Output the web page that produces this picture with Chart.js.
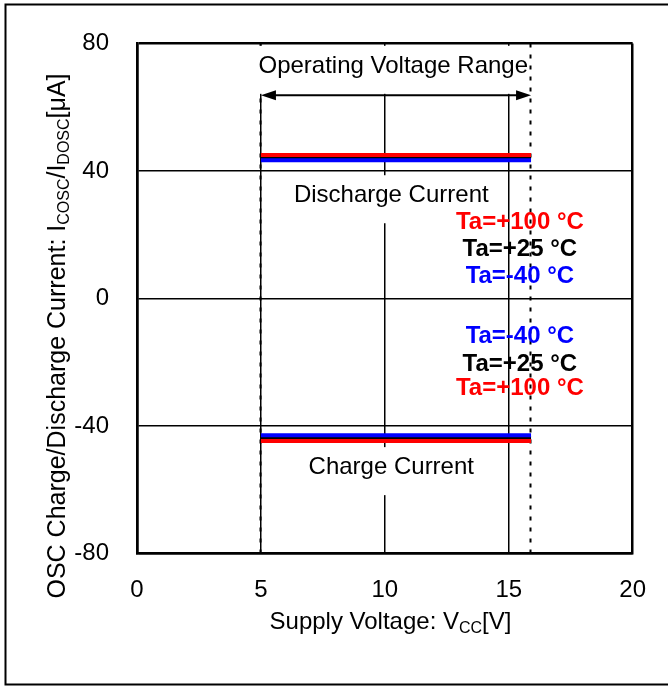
<!DOCTYPE html>
<html><head><meta charset="utf-8">
<script src="https://cdn.jsdelivr.net/npm/chart.js@4"></script>
<style>html,body{margin:0;padding:0;background:#fff;} canvas{display:block;}</style>
</head><body>
<canvas id="c" width="668" height="686"></canvas>
<script>
// ---- data ----
const xTicks = [0, 5, 10, 15, 20];
const yTicks = [-80, -40, 0, 40, 80];
const supplyVoltage = [5.0, 15.9];
const dischargeTa100 = [45.0, 45.0];
const dischargeTa25 = [44.2, 44.2];
const dischargeTaM40 = [43.4, 43.4];
const chargeTaM40 = [-42.9, -42.9];
const chargeTa25 = [-43.8, -43.8];
const chargeTa100 = [-44.7, -44.7];
const operatingRange = [5.0, 15.9];
const tempLabelsUpper = ['Ta=+100 °C', 'Ta=+25 °C', 'Ta=-40 °C'];
const tempLabelsLower = ['Ta=-40 °C', 'Ta=+25 °C', 'Ta=+100 °C'];
const tempColorsUpper = ['#ff0000', '#000000', '#0000ff'];
const tempColorsLower = ['#0000ff', '#000000', '#ff0000'];

const FONT = '"Liberation Sans", Arial, Helvetica, sans-serif';
Chart.defaults.color = '#000';
Chart.defaults.font.family = FONT;

function pts(xs, ys) { return xs.map((x, i) => ({ x: x, y: ys[i] })); }
function ds(data, color, order) {
  return { data: pts(supplyVoltage, data), borderColor: color, backgroundColor: color,
    borderWidth: 4, pointRadius: 0, fill: false, order: order, borderCapStyle: 'butt' };
}

const annot = {
  id: 'annot',
  beforeDatasetsDraw(chart) {
    const ctx = chart.ctx, xs = chart.scales.x, ys = chart.scales.y, a = chart.chartArea;
    ctx.save();
    ctx.strokeStyle = '#000'; ctx.lineWidth = 2; ctx.setLineDash([4, 7]);
    operatingRange.forEach(v => {
      const X = Math.round(xs.getPixelForValue(v)) - 0.5;
      ctx.beginPath(); ctx.moveTo(X, a.top); ctx.lineTo(X, a.bottom); ctx.stroke();
    });
    ctx.setLineDash([]);
    const rightLimit = xs.getPixelForValue(operatingRange[1]) - 2;
    const boxed = [
      { text: 'Operating Voltage Range', x: 10.34, y: 70.8 },
      { text: 'Discharge Current', x: 10.26, y: 30.2 },
      { text: 'Charge Current', x: 10.26, y: -55.1 }
    ];
    ctx.font = '24px ' + FONT; ctx.textAlign = 'center'; ctx.textBaseline = 'alphabetic';
    boxed.forEach(l => {
      const X = xs.getPixelForValue(l.x), Y = ys.getPixelForValue(l.y);
      const w = ctx.measureText(l.text).width;
      const left = X - w / 2 - 6, right = Math.min(X + w / 2 + 6, rightLimit);
      ctx.fillStyle = '#fff'; ctx.fillRect(left, Y - 27, right - left, 48);
      ctx.fillStyle = '#000'; ctx.fillText(l.text, X, Y);
    });
    const ay = ys.getPixelForValue(63.8);
    const ax1 = xs.getPixelForValue(operatingRange[0]), ax2 = xs.getPixelForValue(operatingRange[1]);
    ctx.strokeStyle = '#000'; ctx.lineWidth = 2;
    ctx.beginPath(); ctx.moveTo(ax1 + 8, ay); ctx.lineTo(ax2 - 8, ay); ctx.stroke();
    ctx.fillStyle = '#000';
    ctx.beginPath(); ctx.moveTo(ax1, ay); ctx.lineTo(ax1 + 15, ay - 5); ctx.lineTo(ax1 + 15, ay + 5); ctx.closePath(); ctx.fill();
    ctx.beginPath(); ctx.moveTo(ax2, ay); ctx.lineTo(ax2 - 15, ay - 5); ctx.lineTo(ax2 - 15, ay + 5); ctx.closePath(); ctx.fill();
    ctx.restore();
  },
  afterDatasetsDraw(chart) {
    const ctx = chart.ctx, xs = chart.scales.x, ys = chart.scales.y;
    ctx.save();
    ctx.font = 'bold 24px ' + FONT; ctx.textAlign = 'center'; ctx.textBaseline = 'alphabetic';
    const X = xs.getPixelForValue(15.45);
    const upperY = [21.7, 13.3, 5.0], lowerY = [-14.0, -22.6, -30.2];
    tempLabelsUpper.forEach((t, i) => { ctx.fillStyle = tempColorsUpper[i]; ctx.fillText(t, X, ys.getPixelForValue(upperY[i])); });
    tempLabelsLower.forEach((t, i) => { ctx.fillStyle = tempColorsLower[i]; ctx.fillText(t, X, ys.getPixelForValue(lowerY[i])); });
    ctx.restore();
  },
  afterDraw(chart) {
    const ctx = chart.ctx;
    ctx.save();
    ctx.fillStyle = '#000'; ctx.textBaseline = 'alphabetic'; ctx.textAlign = 'left';
    function drawRich(parts, big, small) {
      let w = 0;
      parts.forEach(p => { ctx.font = (p.sub ? small : big) + 'px ' + FONT; p.w = ctx.measureText(p.t).width; w += p.w; });
      let x = -w / 2;
      parts.forEach(p => { ctx.font = (p.sub ? small : big) + 'px ' + FONT; ctx.fillText(p.t, x, p.sub ? 4 : 0); x += p.w; });
    }
    ctx.save(); ctx.translate(390.5, 629);
    drawRich([{ t: 'Supply Voltage: V' }, { t: 'CC', sub: true }, { t: '[V]' }], 24, 16);
    ctx.restore();
    ctx.save(); ctx.translate(65, 336); ctx.rotate(-Math.PI / 2);
    drawRich([{ t: 'OSC Charge/Discharge Current: I' }, { t: 'COSC', sub: true }, { t: '/I' }, { t: 'DOSC', sub: true }, { t: '[μA]' }], 25, 16);
    ctx.restore();
    ctx.strokeStyle = '#000'; ctx.lineWidth = 2;
    ctx.strokeRect(5.5, 4.5, 700, 680);
    ctx.restore();
  }
};

const gridWidth = c => (c.tick && Math.abs(c.tick.value) === 80) ? 2.5 : 1.5;
const gridWidthX = c => (c.tick && (c.tick.value === 0 || c.tick.value === 20)) ? 2.5 : 1.5;

new Chart(document.getElementById('c'), {
  type: 'line',
  data: {
    datasets: [
      ds(dischargeTa25, '#000000', 3),
      ds(chargeTa25, '#000000', 3),
      ds(dischargeTaM40, '#0000ff', 2),
      ds(chargeTaM40, '#0000ff', 2),
      ds(dischargeTa100, '#ff0000', 1),
      ds(chargeTa100, '#ff0000', 1)
    ]
  },
  options: {
    responsive: false, animation: false, devicePixelRatio: 1,
    layout: { padding: { left: 0, top: 43.5, right: 32, bottom: 0 } },
    plugins: { legend: { display: false }, tooltip: { enabled: false }, title: { display: false } },
    scales: {
      x: {
        type: 'linear', min: 0, max: 20,
        afterBuildTicks: axis => { axis.ticks = xTicks.map(v => ({ value: v })); },
        afterFit: axis => { axis.height = 132.5; },
        ticks: { font: { size: 24, family: FONT }, color: '#000', padding: 22, maxRotation: 0, autoSkip: false },
        grid: { color: '#000', lineWidth: gridWidthX, drawTicks: false },
        border: { display: true, color: '#000', width: 2.5 }
      },
      y: {
        type: 'linear', min: -80, max: 80,
        afterBuildTicks: axis => { axis.ticks = yTicks.map(v => ({ value: v })); },
        afterFit: axis => { axis.width = 137; },
        ticks: { font: { size: 24, family: FONT }, color: '#000', padding: 28, autoSkip: false },
        grid: { color: '#000', lineWidth: gridWidth, drawTicks: false },
        border: { display: true, color: '#000', width: 2.5 }
      }
    }
  },
  plugins: [annot]
});
</script>
</body></html>
